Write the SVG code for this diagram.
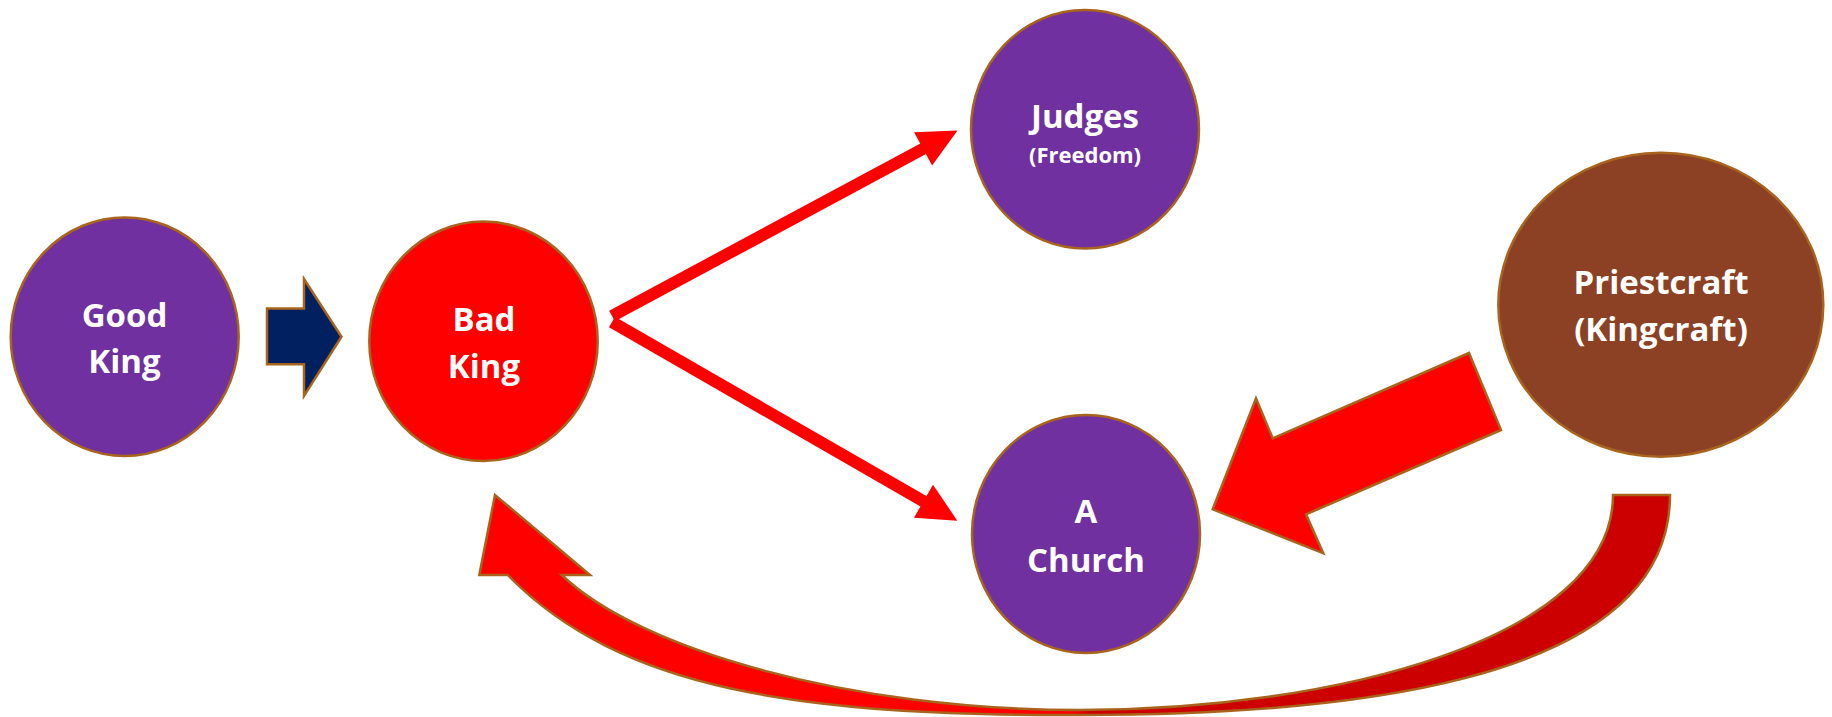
<svg xmlns="http://www.w3.org/2000/svg" width="1832" height="717" viewBox="0 0 1832 717">
  <defs>
    <style>
      .node { stroke: #A8641C; stroke-width: 2.5; }
      .purple { fill: #7030A0; }
      .red { fill: #FF0000; }
      .brown { fill: #8C4124; }
      .lbl { fill: #FFFFFF; font-family: "Open Sans", "Noto Sans", sans-serif; font-weight: 700; font-size: 33px; text-anchor: middle; }
      .small { font-size: 22px; }
      .edge { stroke: #FF0000; stroke-width: 12; fill: none; }
      .head { fill: #FF0000; }
      .shape { stroke: #A8641C; stroke-width: 2.5; stroke-linejoin: miter; }
    </style>
    <linearGradient id="curveFill" gradientUnits="userSpaceOnUse" x1="1070" y1="0" x2="1090" y2="0">
      <stop offset="0" stop-color="#FF0000"/>
      <stop offset="1" stop-color="#CC0000"/>
    </linearGradient>
  </defs>
  <rect width="1832" height="717" fill="#FFFFFF"/>

  <g id="connectors">
    <polygon id="arrow-good-bad" class="shape" fill="#002060" points="267,308.5 304,308.5 304,279 341.5,336.7 304,396 304,364.3 267,364.3"/>
    <line class="edge" x1="612" y1="316" x2="926" y2="147.3"/>
    <polygon class="head" points="957.5,130.5 914.1,132.2 932.1,165.6"/>
    <line class="edge" x1="612" y1="322" x2="926.5" y2="503"/>
    <polygon class="head" points="957.3,520.7 933,484.7 914,517.7"/>
    <polygon id="arrow-priest-church" class="shape" fill="#FF0000" points="1212.7,509.3 1256,398.3 1272.7,438.3 1469,353 1501,430 1306,514.3 1323.3,553.3"/>
    <path id="arrow-priest-bad" class="shape" fill="url(#curveFill)" d="M1613,495 L1670,495 C1670,690 1320,715 1080,715 C800,716 620,690 507.7,575 L479.3,575 L495,495 L590,575 L561.7,575 C640,650 850,710 1080,710 C1330,710 1613,640 1613,495 Z"/>
  </g>

  <g id="good-king">
    <ellipse class="node purple" cx="124.7" cy="336.7" rx="114" ry="119.3"/>
    <text class="lbl" x="124.5" y="326.7">Good</text>
    <text class="lbl" x="124.5" y="373.3">King</text>
  </g>
  <g id="bad-king">
    <ellipse class="node red" cx="483.5" cy="341.3" rx="114.2" ry="119.7"/>
    <text class="lbl" x="484" y="331">Bad</text>
    <text class="lbl" x="484" y="378.3">King</text>
  </g>
  <g id="judges">
    <ellipse class="node purple" cx="1085" cy="129.2" rx="114" ry="119.2"/>
    <text class="lbl" x="1085" y="127.7">Judges</text>
    <text class="lbl small" x="1085" y="163.3">(Freedom)</text>
  </g>
  <g id="church">
    <ellipse class="node purple" cx="1086" cy="534" rx="114" ry="119"/>
    <text class="lbl" x="1086" y="523.3">A</text>
    <text class="lbl" x="1086" y="571.7">Church</text>
  </g>
  <g id="priestcraft">
    <ellipse class="node brown" cx="1660.8" cy="304.7" rx="162.5" ry="152"/>
    <text class="lbl" x="1661" y="294">Priestcraft</text>
    <text class="lbl" x="1661" y="341">(Kingcraft)</text>
  </g>
</svg>
